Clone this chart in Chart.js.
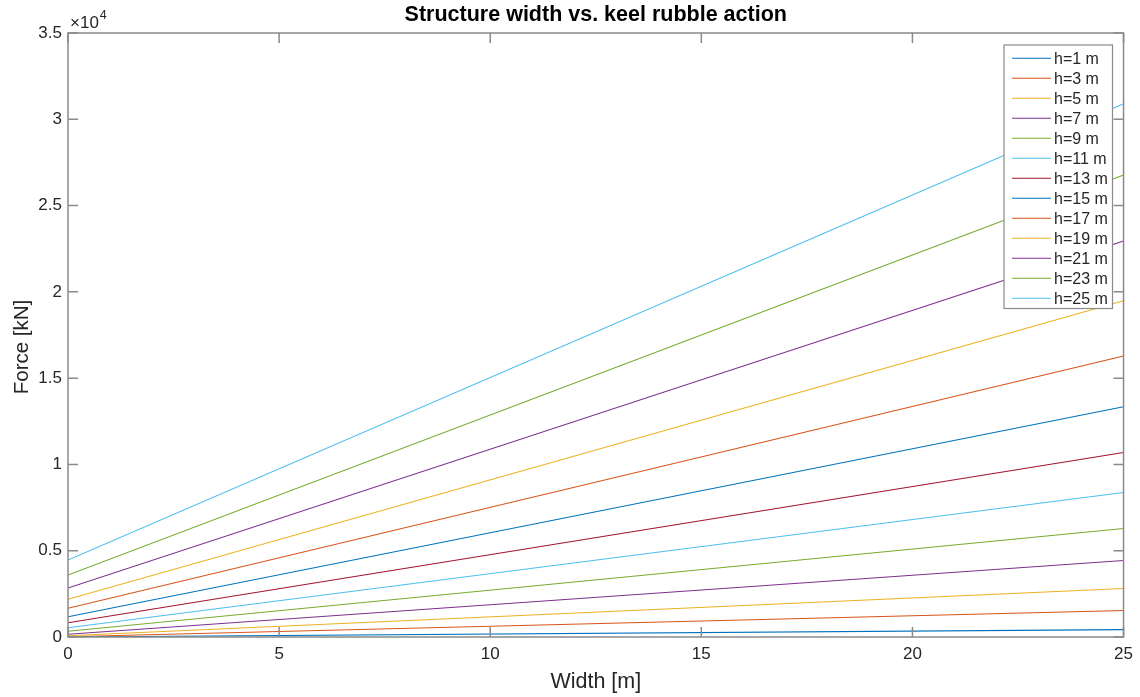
<!DOCTYPE html>
<html>
<head>
<meta charset="utf-8">
<script src="https://cdn.jsdelivr.net/npm/chart.js@4.4.1/dist/chart.umd.min.js"></script>
<style>
  html, body { margin: 0; padding: 0; background: #ffffff; }
  canvas { display: block; }
</style>
</head>
<body>
<canvas id="chart" width="1140" height="697"></canvas>
<script>
// Keel rubble force against structure width, one line per keel depth h
const widths = [0, 25];                       // structure width [m]
const depths = [1, 3, 5, 7, 9, 11, 13, 15, 17, 19, 21, 23, 25]; // keel depth h [m]
const forceAtZeroWidth = [3, 18, 72, 156, 330, 539, 829, 1177, 1663, 2185, 2840, 3593, 4462];        // [kN]
const forceAtMaxWidth = [425, 1536, 2810, 4433, 6288, 8374, 10692, 13340, 16280, 19480, 22950, 26770, 30900]; // [kN]
const xTickValues = [0, 5, 10, 15, 20, 25];
const yTickValues = [0, 5000, 10000, 15000, 20000, 25000, 30000, 35000];
const yTickLabels = ['0', '0.5', '1', '1.5', '2', '2.5', '3', '3.5'];
const lineColors = ['#0072BD', '#D95319', '#EDB120', '#7E2F8E', '#77AC30', '#4DBEEE', '#A2142F'];

const FONT = "'Liberation Sans', Arial, Helvetica, sans-serif";
const TEXT = '#262626';
const AXIS = '#8a8a8a';

const datasets = depths.map((h, i) => {
  const values = [forceAtZeroWidth[i], forceAtMaxWidth[i]];
  return {
    label: 'h=' + h + ' m',
    data: widths.map((w, j) => ({ x: w, y: values[j] })),
    borderColor: lineColors[i % lineColors.length],
    backgroundColor: lineColors[i % lineColors.length],
    borderWidth: 1.1,
    pointRadius: 0,
    tension: 0,
    fill: false
  };
});

// Box around the axes with inward ticks on all four sides, titles and exponent
const axesBox = {
  id: 'axesBox',
  afterDatasetsDraw(chart) {
    const { ctx, chartArea: a, scales } = chart;
    ctx.save();
    ctx.strokeStyle = AXIS;
    ctx.lineWidth = 1.5;
    ctx.strokeRect(a.left, a.top, a.right - a.left, a.bottom - a.top);
    const tl = 10;
    ctx.beginPath();
    xTickValues.forEach(v => {
      const px = scales.x.getPixelForValue(v);
      ctx.moveTo(px, a.bottom); ctx.lineTo(px, a.bottom - tl);
      ctx.moveTo(px, a.top); ctx.lineTo(px, a.top + tl);
    });
    yTickValues.forEach(v => {
      const py = scales.y.getPixelForValue(v);
      ctx.moveTo(a.left, py); ctx.lineTo(a.left + tl, py);
      ctx.moveTo(a.right, py); ctx.lineTo(a.right - tl, py);
    });
    ctx.stroke();

    // chart title
    ctx.fillStyle = '#000000';
    ctx.font = 'bold 21.5px ' + FONT;
    ctx.textAlign = 'center';
    ctx.textBaseline = 'alphabetic';
    ctx.fillText('Structure width vs. keel rubble action', (a.left + a.right) / 2, 21);

    // axis titles
    ctx.fillStyle = TEXT;
    ctx.font = '21.5px ' + FONT;
    ctx.textBaseline = 'middle';
    ctx.fillText('Width [m]', (a.left + a.right) / 2, 682);
    ctx.save();
    ctx.translate(22, 347);
    ctx.rotate(-Math.PI / 2);
    ctx.font = '20.5px ' + FONT;
    ctx.fillText('Force [kN]', 0, 0);
    ctx.restore();

    // exponent of the y axis
    ctx.textAlign = 'left';
    ctx.textBaseline = 'alphabetic';
    ctx.font = '17px ' + FONT;
    ctx.fillText('\u00d710', a.left + 2, 28);
    const w = ctx.measureText('\u00d710').width;
    ctx.font = '12.5px ' + FONT;
    ctx.fillText('4', a.left + 3 + w, 19);
    ctx.restore();
  },
  afterDraw(chart) {
    // legend box in the upper right corner
    const { ctx } = chart;
    const left = 1004, top = 45, right = 1112.5, bottom = 308.5;
    ctx.save();
    ctx.fillStyle = '#ffffff';
    ctx.fillRect(left, top, right - left, bottom - top);
    ctx.strokeStyle = AXIS;
    ctx.lineWidth = 1.2;
    ctx.strokeRect(left, top, right - left, bottom - top);
    ctx.font = '16px ' + FONT;
    ctx.textBaseline = 'middle';
    ctx.textAlign = 'left';
    chart.data.datasets.forEach((ds, i) => {
      const y = 58.3 + i * 20;
      ctx.strokeStyle = ds.borderColor;
      ctx.lineWidth = 1.1;
      ctx.beginPath();
      ctx.moveTo(1012, y);
      ctx.lineTo(1051, y);
      ctx.stroke();
      ctx.fillStyle = TEXT;
      ctx.fillText(ds.label, 1054, y + 1);
    });
    ctx.restore();
  }
};

new Chart(document.getElementById('chart'), {
  type: 'line',
  data: { datasets },
  plugins: [axesBox],
  options: {
    responsive: false,
    animation: false,
    devicePixelRatio: 1,
    layout: { padding: { top: 33, right: 15, left: 0, bottom: 0 } },
    plugins: {
      legend: { display: false },
      tooltip: { enabled: false },
      title: { display: false }
    },
    scales: {
      x: {
        type: 'linear',
        min: 0,
        max: 25,
        afterBuildTicks: s => { s.ticks = xTickValues.map(v => ({ value: v })); },
        afterFit: s => { s.height = 60; },
        grid: { display: false, drawTicks: false },
        border: { display: false },
        ticks: {
          color: TEXT,
          font: { family: FONT, size: 17 },
          padding: 7,
          maxRotation: 0,
          autoSkip: false
        },
        title: { display: false }
      },
      y: {
        type: 'linear',
        min: 0,
        max: 35000,
        afterBuildTicks: s => { s.ticks = yTickValues.map(v => ({ value: v })); },
        afterFit: s => { s.width = 68; },
        grid: { display: false, drawTicks: false },
        border: { display: false },
        ticks: {
          color: TEXT,
          font: { family: FONT, size: 17 },
          padding: 6,
          autoSkip: false,
          callback: (v) => yTickLabels[yTickValues.indexOf(v)]
        },
        title: { display: false }
      }
    }
  }
});
</script>
</body>
</html>
